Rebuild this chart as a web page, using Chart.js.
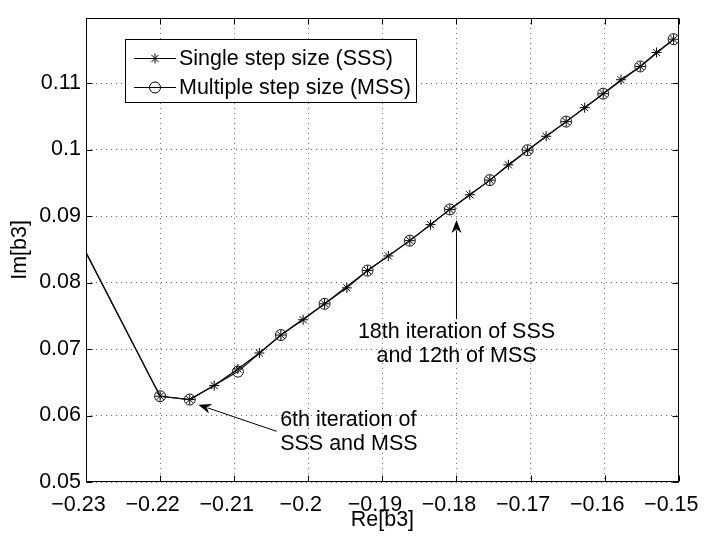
<!DOCTYPE html>
<html>
<head>
<meta charset="utf-8">
<script src="https://cdn.jsdelivr.net/npm/chart.js@4/dist/chart.umd.min.js"></script>
<style>
  html, body { margin: 0; padding: 0; background: #fff; }
</style>
</head>
<body>
<canvas id="chart" width="716" height="540"></canvas>
<script>
// iterates (Re / Im of b3)
const sssRe = [-0.23, -0.22, -0.2160, -0.2127, -0.2095, -0.2066, -0.2037, -0.2007, -0.1978, -0.1948, -0.1920, -0.1892, -0.1863, -0.1835, -0.1809, -0.1782, -0.1755, -0.1730, -0.1704, -0.1679, -0.1652, -0.1627, -0.1602, -0.1578, -0.1552, -0.1530, -0.1507];
const sssIm = [0.0845, 0.0629, 0.0624, 0.0645, 0.0670, 0.0694, 0.0721, 0.0744, 0.0768, 0.0792, 0.0818, 0.0840, 0.0863, 0.0887, 0.0910, 0.0932, 0.0954, 0.0977, 0.0999, 0.1020, 0.1042, 0.1063, 0.1084, 0.1105, 0.1125, 0.1146, 0.1166];
const mssRe = [-0.23, -0.22, -0.2160, -0.2095, -0.2037, -0.1978, -0.1920, -0.1863, -0.1809, -0.1755, -0.1704, -0.1652, -0.1602, -0.1552, -0.1507];
const mssIm = [0.0845, 0.0629, 0.0624, 0.0666, 0.0721, 0.0768, 0.0818, 0.0863, 0.0910, 0.0954, 0.0999, 0.1042, 0.1084, 0.1125, 0.1166];

const seriesNames = ["Single step size (SSS)", "Multiple step size (MSS)"];

const xTicks = [-0.23, -0.22, -0.21, -0.2, -0.19, -0.18, -0.17, -0.16, -0.15];
const xTickLabels = ["\u22120.23", "\u22120.22", "\u22120.21", "\u22120.2", "\u22120.19", "\u22120.18", "\u22120.17", "\u22120.16", "\u22120.15"];
const yTicks = [0.05, 0.06, 0.07, 0.08, 0.09, 0.1, 0.11];
const yTickLabels = ["0.05", "0.06", "0.07", "0.08", "0.09", "0.1", "0.11"];

const FONT = '"Liberation Sans", Arial, Helvetica, sans-serif';
const FSIZE = 21.5;

const toPts = (xs, ys) => xs.map((x, i) => ({ x: x, y: ys[i] }));

function arrow(ctx, x1, y1, x2, y2) {
    const ang = Math.atan2(y2 - y1, x2 - x1);
    const c = Math.cos(ang), s = Math.sin(ang);
    const len = 13, half = 5;
    ctx.beginPath();
    ctx.moveTo(x1, y1);
    ctx.lineTo(x2 - c * len * 0.8, y2 - s * len * 0.8);
    ctx.stroke();
    ctx.beginPath();
    ctx.moveTo(x2, y2);
    ctx.lineTo(x2 - c * len - s * half, y2 - s * len + c * half);
    ctx.lineTo(x2 - c * len * 0.7, y2 - s * len * 0.7);
    ctx.lineTo(x2 - c * len + s * half, y2 - s * len - c * half);
    ctx.closePath();
    ctx.fill();
}

const extras = {
    id: 'extras',
    afterDatasetsDraw(chart) {
        const ctx = chart.ctx;
        const a = chart.chartArea;
        const xs = chart.scales.x, ys = chart.scales.y;
        ctx.save();
        ctx.strokeStyle = '#000';
        ctx.fillStyle = '#000';
        ctx.lineWidth = 1;

        // box
        const L = Math.round(a.left) + 0.5, R = Math.round(a.right) - 0.5;
        const T = Math.round(a.top) + 0.5, B = Math.round(a.bottom) - 0.5;
        ctx.strokeRect(L, T, R - L, B - T);

        // inward ticks on all four sides
        ctx.beginPath();
        xTicks.forEach(v => {
            const px = Math.round(xs.getPixelForValue(v)) + 0.5;
            ctx.moveTo(px, B); ctx.lineTo(px, B - 6);
            ctx.moveTo(px, T); ctx.lineTo(px, T + 6);
        });
        yTicks.forEach(v => {
            const py = Math.round(ys.getPixelForValue(v)) + 0.5;
            ctx.moveTo(L, py); ctx.lineTo(L + 6, py);
            ctx.moveTo(R, py); ctx.lineTo(R - 6, py);
        });
        ctx.stroke();

        // annotations
        ctx.font = FSIZE + 'px ' + FONT;
        ctx.textBaseline = 'middle';
        ctx.textAlign = 'center';
        const ax = xs.getPixelForValue(-0.18);
        ctx.fillText("18th iteration of SSS", ax, ys.getPixelForValue(0.07258));
        ctx.fillText("and 12th of MSS", ax, ys.getPixelForValue(0.06896));
        arrow(ctx, ax, ys.getPixelForValue(0.0745), ax, ys.getPixelForValue(0.0894));

        ctx.textAlign = 'left';
        const bx = xs.getPixelForValue(-0.2038);
        ctx.fillText("6th iteration of", bx, ys.getPixelForValue(0.05924));
        ctx.fillText("SSS and MSS", bx, ys.getPixelForValue(0.05572));
        arrow(ctx, xs.getPixelForValue(-0.20427), ys.getPixelForValue(0.05762),
                   xs.getPixelForValue(-0.21485), ys.getPixelForValue(0.06163));

        // legend
        ctx.fillStyle = '#fff';
        ctx.fillRect(125.5, 39.5, 291, 63);
        ctx.strokeRect(125.5, 39.5, 291, 63);
        const rows = [58.5, 87.5];
        const styles = ['star', 'circle'];
        rows.forEach((ry, i) => {
            ctx.strokeStyle = '#000';
            ctx.beginPath();
            ctx.moveTo(134, ry); ctx.lineTo(176, ry);
            ctx.stroke();
            ctx.fillStyle = 'rgba(0,0,0,0)';
            Chart.helpers.drawPoint(ctx, { pointStyle: styles[i], radius: i ? 5.5 : 5, rotation: 0, borderWidth: 1 }, 155, ry);
            ctx.fillStyle = '#000';
            ctx.fillText(seriesNames[i], 179, ry + 1);
        });

        // axis titles
        ctx.textAlign = 'center';
        ctx.fillText("Re[b3]", (a.left + a.right) / 2, 520);
        ctx.save();
        ctx.translate(20, (a.top + a.bottom) / 2);
        ctx.rotate(-Math.PI / 2);
        ctx.fillText("Im[b3]", 0, 0);
        ctx.restore();

        ctx.restore();
    }
};

new Chart(document.getElementById('chart'), {
    type: 'scatter',
    data: {
        datasets: [
            {
                label: seriesNames[1],
                data: toPts(mssRe, mssIm),
                showLine: true,
                borderColor: '#111',
                borderWidth: 1.2,
                backgroundColor: 'rgba(0,0,0,0)',
                pointStyle: 'circle',
                pointRadius: ctx => ctx.dataIndex === 0 ? 0 : 5.5,
                pointBorderColor: '#111',
                pointBorderWidth: 1,
                clip: 0
            },
            {
                label: seriesNames[0],
                data: toPts(sssRe, sssIm),
                showLine: true,
                borderColor: '#000',
                borderWidth: 1.2,
                backgroundColor: 'rgba(0,0,0,0)',
                pointStyle: 'star',
                pointRadius: ctx => ctx.dataIndex === 0 ? 0 : 5,
                pointBorderColor: '#000',
                pointBorderWidth: 1,
                clip: 0
            }
        ]
    },
    options: {
        responsive: false,
        animation: false,
        events: [],
        layout: { padding: { top: 6, right: 26, left: 0, bottom: 0 } },
        plugins: { legend: { display: false }, tooltip: { enabled: false } },
        scales: {
            x: {
                type: 'linear',
                min: -0.23,
                max: -0.15,
                afterBuildTicks: s => { s.ticks = xTicks.map(v => ({ value: v })); },
                afterFit: s => { s.height = 58; },
                ticks: {
                    callback: (v, i) => xTickLabels[i],
                    color: '#000',
                    font: { family: FONT, size: FSIZE },
                    padding: 10,
                    labelOffset: -7.5,
                    maxRotation: 0,
                    autoSkip: false
                },
                grid: { color: 'rgba(0,0,0,0.6)', lineWidth: 1, drawTicks: false },
                border: { display: false, dash: [1, 4] }
            },
            y: {
                type: 'linear',
                min: 0.05,
                max: 0.1198,
                afterBuildTicks: s => { s.ticks = yTicks.map(v => ({ value: v })); },
                afterFit: s => { s.width = 86; },
                ticks: {
                    callback: (v, i) => yTickLabels[i],
                    color: '#000',
                    font: { family: FONT, size: FSIZE },
                    padding: 5,
                    autoSkip: false
                },
                grid: { color: 'rgba(0,0,0,0.6)', lineWidth: 1, drawTicks: false },
                border: { display: false, dash: [1, 4] }
            }
        }
    },
    plugins: [extras]
});
</script>
</body>
</html>
